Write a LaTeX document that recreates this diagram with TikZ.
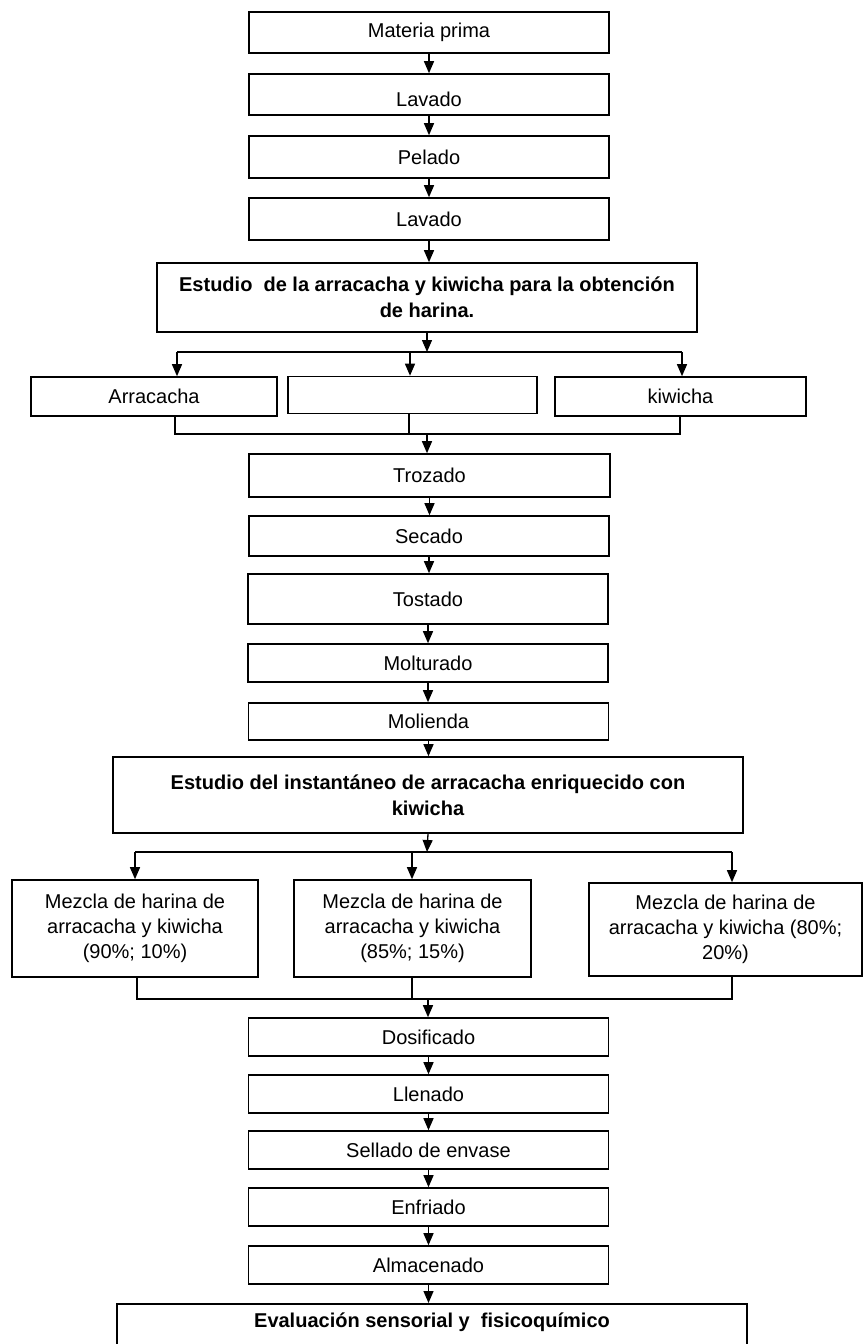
\documentclass[tikz,border=0pt]{standalone}
\usepackage{fontspec}
\setmainfont{Liberation Sans}
\usetikzlibrary{arrows.meta}
\tikzset{
    normal/.style={draw, line width=0.8pt},
    paso/.style={style=normal, minimum width=180pt, minimum height=20.5pt, inner sep=1pt, font=\fontsize{10pt}{12.5pt}\selectfont}, % process step
    titulo/.style={style=paso, align=center, font=\fontsize{10pt}{13pt}\selectfont\bfseries}, % study stage
    ramal/.style={style=paso, minimum width=123pt}, % branch after a study stage
    mezcla/.style={style=paso, align=center, minimum width=123pt, minimum height=48.5pt}, % blend
    te/.style={line width=0.65pt}, % joining line
    e/.style={style=te, -{Triangle[width=5pt, length=6pt]}} % flow arrow
}

\begin{document}
\begin{tikzpicture}[x=0.5pt, y=-0.5pt]
    \useasboundingbox (0,0) rectangle (865,1344);
    \clip (0,0) rectangle (865,1344);

    % preparation
    \node[paso] (mp) at (429,32.5) {Materia prima};
    \node[paso, text height=12pt] (lav1) at (429,94.5) {Lavado};
    \node[paso, minimum height=21pt] (pel) at (429,157) {Pelado};
    \node[paso, minimum height=21pt] (lav2) at (429,219) {Lavado};
    \node[titulo, minimum width=270pt, minimum height=34.5pt] (est1) at (427,297.5) {Estudio~ de la arracacha y kiwicha para la obtención\\de harina.};

    \node[ramal, minimum height=19.5pt] (arr) at (154,396.5) {Arracacha};
    \node[ramal, minimum width=124.5pt, minimum height=18.5pt] (mid) at (412.5,395) {};
    \node[ramal, minimum width=125.5pt, minimum height=19.5pt] (kiw) at (680.5,396.5) {kiwicha};

    \coordinate (r0) at (427,352);
    \coordinate (r1) at (177,352);
    \coordinate (r2) at (410,352);
    \coordinate (r3) at (682,352);
    \coordinate (m0) at (427,434);
    \coordinate (m1) at (175,434);
    \coordinate (m2) at (409,434);
    \coordinate (m3) at (680,434);

    % flour
    \node[paso, minimum width=180.5pt, minimum height=21.5pt] (tro) at (429.5,475.5) {Trozado};
    \node[paso, minimum height=20pt] (sec) at (429,536) {Secado};
    \node[paso, minimum height=25pt] (tos) at (428,599) {Tostado};
    \node[paso, minimum height=19pt] (mol) at (428,663) {Molturado};
    \node[paso, minimum height=18.5pt] (mli) at (428.5,721.5) {Molienda};
    \node[titulo, minimum width=315pt, minimum height=38pt] (est2) at (428,795) {Estudio del instantáneo de arracacha enriquecido con\\kiwicha};

    \node[mezcla] (mz1) at (135,928.5) {Mezcla de harina de\\arracacha y kiwicha\\(90\%; 10\%)};
    \node[mezcla, minimum width=118.5pt] (mz2) at (412.5,928.5) {Mezcla de harina de\\arracacha y kiwicha\\(85\%; 15\%)};
    \node[mezcla, minimum width=136.5pt, minimum height=46.5pt] (mz3) at (725.5,929.5) {Mezcla de harina de\\arracacha y kiwicha (80\%;\\20\%)};

    \coordinate (s0) at (427,852);
    \coordinate (s1) at (135,852);
    \coordinate (s2) at (412,852);
    \coordinate (s3) at (732,852);
    \coordinate (k0) at (428,999);
    \coordinate (k1) at (137,999);
    \coordinate (k2) at (412,999);
    \coordinate (k3) at (732,999);

    % packing
    \node[paso, minimum height=19pt] (dos) at (428.5,1037) {Dosificado};
    \node[paso, minimum height=19pt] (lle) at (428.5,1094) {Llenado};
    \node[paso, minimum height=19pt] (sel) at (428.5,1150) {Sellado de envase};
    \node[paso, minimum height=19pt] (enf) at (428.5,1207) {Enfriado};
    \node[paso, minimum height=19pt] (alm) at (428.5,1265) {Almacenado};
    \node[titulo, anchor=north, minimum width=315pt, inner ysep=2pt, text height=10pt, text depth=30pt] (eva) at (432,1303) {Evaluación sensorial y~ fisicoquímico};

    \foreach \a/\b in {mp/lav1, lav1/pel, pel/lav2, lav2/est1, tro/sec, sec/tos, tos/mol, mol/mli, mli/est2, dos/lle, lle/sel, sel/enf, enf/alm, alm/eva}
        \draw[e] (\a.south) -- (\a.south |- \b.north);

    % split and join after first study
    \draw[e] (est1.south) -- (r0);
    \draw[te] (r1) -- (r3);
    \foreach \c/\n in {r1/arr, r2/mid, r3/kiw}
        \draw[e] (\c) -- (\c |- \n.north);
    \draw[te] (m1 |- arr.south) -- (m1) -- (m3) -- (m3 |- kiw.south);
    \draw[te] (m2 |- mid.south) -- (m2);
    \draw[e] (m0) -- (m0 |- tro.north);

    % split and join after second study
    \draw[e] (est2.south) -- (s0);
    \draw[te] (s1) -- (s3);
    \foreach \c/\n in {s1/mz1, s2/mz2, s3/mz3}
        \draw[e] (\c) -- (\c |- \n.north);
    \draw[te] (k1 |- mz1.south) -- (k1) -- (k3) -- (k3 |- mz3.south);
    \draw[te] (k2 |- mz2.south) -- (k2);
    \draw[e] (k0) -- (k0 |- dos.north);
\end{tikzpicture}
\end{document}
